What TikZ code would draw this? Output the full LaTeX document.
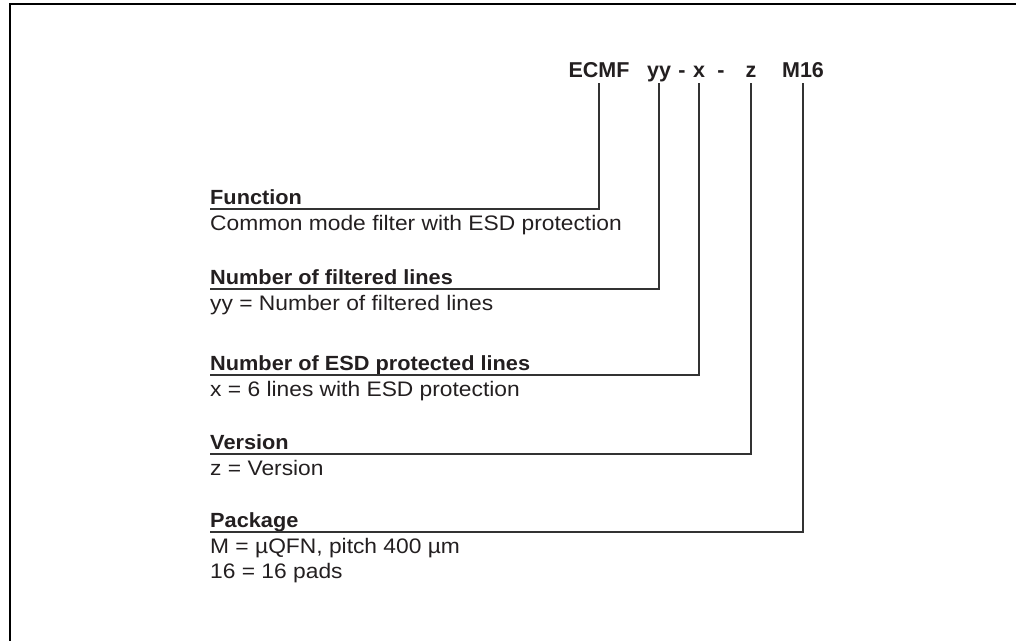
\documentclass[tikz,border=0pt]{standalone}
\usepackage{fontspec}
\setmainfont{Liberation Sans}
\newfontfamily\bodyfont[FakeStretch=1.085]{Liberation Sans}
\newfontfamily\titlefont[FakeStretch=1.06]{Liberation Sans}
\definecolor{ink}{HTML}{231F20}
\definecolor{wire}{HTML}{333333}
\begin{document}
\begin{tikzpicture}[x=1pt,y=-1pt,
  hdr/.style={font=\fontsize{21.5}{26}\selectfont\bfseries, text=ink, inner xsep=0pt, inner ysep=6pt, text depth=0pt, anchor=base},
  ttl/.style={font=\titlefont\fontsize{20.5}{24}\selectfont\bfseries, text=ink, inner sep=0pt, anchor=base west},
  bdy/.style={font=\bodyfont\fontsize{21}{25}\selectfont, text=ink, inner sep=0pt, anchor=base west},
  wireline/.style={draw=wire, line width=1.8pt}]
\useasboundingbox (0,0) rectangle (1016,641);
\draw[line width=2.2pt, black] (1016,4) -- (10,4) -- (10,641);
% header
\node[hdr] (hECMF) at (599,77) {ECMF};
\node[hdr] (hyy) at (659,77) {yy};
\node[hdr] (hd1) at (682,77) {-};
\node[hdr] (hx) at (699,77) {x};
\node[hdr] (hd2) at (721,77) {-};
\node[hdr] (hz) at (751,77) {z};
\node[hdr] (hM) at (803,77) {M16};
% underline starts
\coordinate (uF) at (210,209);
\coordinate (uN) at (210,289);
\coordinate (uE) at (210,375);
\coordinate (uV) at (210,454);
\coordinate (uP) at (210,532);
% titles and descriptions
\node[ttl] (tF) at (210,204) {Function};
\node[bdy] (bF) at (210,230) {Common mode filter with ESD protection};
\node[ttl] (tN) at (210,284) {Number of filtered lines};
\node[bdy] (bN) at (210,310) {yy = Number of filtered lines};
\node[ttl] (tE) at (210,370) {Number of ESD protected lines};
\node[bdy] (bE) at (210,396) {x = 6 lines with ESD protection};
\node[ttl] (tV) at (210,449) {Version};
\node[bdy] (bV) at (210,475) {z = Version};
\node[ttl] (tP) at (210,527) {Package};
\node[bdy] (bP) at (210,553) {M = µQFN, pitch 400 µm};
\node[bdy] (bP2) at (210,578) {16 = 16 pads};
% connectors
\draw[wireline] (hECMF.south) |- (uF);
\draw[wireline] (hyy.south) |- (uN);
\draw[wireline] (hx.south) |- (uE);
\draw[wireline] (hz.south) |- (uV);
\draw[wireline] (hM.south) |- (uP);
\end{tikzpicture}
\end{document}
